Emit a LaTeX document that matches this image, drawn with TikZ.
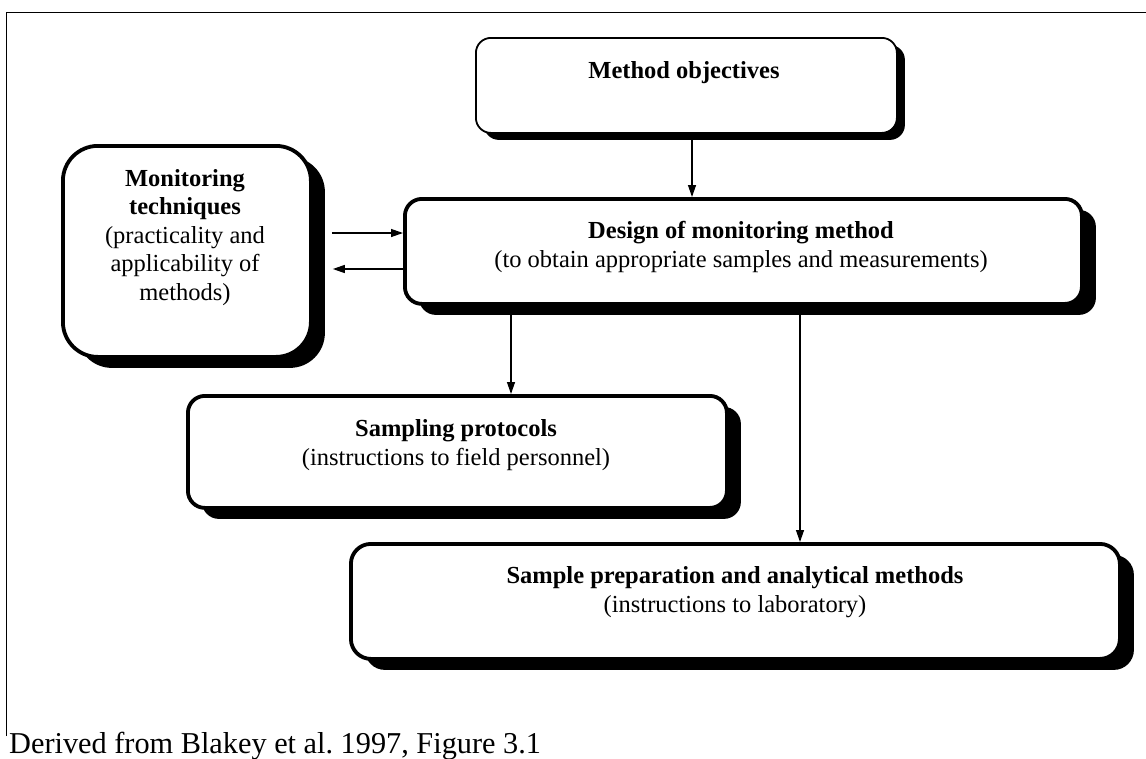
\documentclass[tikz,border=0pt]{standalone}
\usepackage{fontspec}
\setmainfont{Liberation Serif}
\usetikzlibrary{arrows.meta,shadows}
\begin{document}
\begin{tikzpicture}[x=1pt,y=-1pt,
  boxbase/.style={draw, fill=white, anchor=north west, inner sep=0pt},
  thinbox/.style={boxbase, line width=1.8pt, rounded corners=15pt,
    drop shadow={shadow xshift=8pt, shadow yshift=-7pt, fill=black, opacity=1}},
  thickbox/.style={boxbase, line width=3.8pt, rounded corners=17pt,
    drop shadow={shadow xshift=14pt, shadow yshift=-11pt, fill=black, opacity=1}},
  tb/.style={anchor=base, inner sep=0pt, font=\fontsize{24.5}{29}\selectfont\bfseries},
  tr/.style={anchor=base, inner sep=0pt, font=\fontsize{24.5}{29}\selectfont},
  arr/.style={line width=1.3pt, -{Triangle[length=12pt,width=8pt]}}
]
\useasboundingbox (0,0) rectangle (1146,758);
% frame
\draw[line width=1.6pt] (6.5,736) -- (6.5,12.5) -- (1146,12.5);

% boxes
\node[thinbox, minimum width=421pt, minimum height=95pt] (meth) at (475,37) {};
\node[thickbox, rounded corners=35pt, minimum width=248pt, minimum height=211pt] (mon) at (61,144) {};
\node[thickbox, minimum width=677pt, minimum height=105pt] (des) at (403,197) {};
\node[thickbox, minimum width=539pt, minimum height=112pt] (sam) at (186,394) {};
\node[thickbox, rounded corners=20pt, minimum width=769pt, minimum height=115pt] (prep) at (349,542) {};

% texts
\node[tb] (methT) at (684,78) {Method objectives};

\node[tb] (monT1) at (185,186) {Monitoring};
\node[tb] (monT2) at (185,214.5) {techniques};
\node[tr] (monT3) at (185,243) {(practicality and};
\node[tr] (monT4) at (185,271.5) {applicability of};
\node[tr] (monT5) at (185,300) {methods)};

\node[tb] (desT1) at (741,238) {Design of monitoring method};
\node[tr] (desT2) at (741,267) {(to obtain appropriate samples and measurements)};

\node[tb] (samT1) at (456,436) {Sampling protocols};
\node[tr] (samT2) at (456,465) {(instructions to field personnel)};

\node[tb] (prepT1) at (735,583) {Sample preparation and analytical methods};
\node[tr] (prepT2) at (735,612) {(instructions to laboratory)};

% helper coordinates for connector positions
\coordinate (xa) at (692,0);
\coordinate (xb) at (511,0);
\coordinate (xc) at (800,0);
\coordinate (ya) at (0,233);
\coordinate (yb) at (0,269);

% connectors
\draw[arr] (meth.south -| xa) -- (des.north -| xa);
\draw[arr, shorten <=19pt] (mon.east |- ya) -- (des.west |- ya);
\draw[arr, shorten >=20pt] (des.west |- yb) -- (mon.east |- yb);
\draw[arr] (des.south -| xb) -- (sam.north -| xb);
\draw[arr] (des.south -| xc) -- (prep.north -| xc);

% caption
\node[anchor=base west, inner sep=0pt, font=\fontsize{30.3}{36}\selectfont] (cap) at (9,753) {Derived from Blakey et al.\ 1997, Figure 3.1};
\end{tikzpicture}
\end{document}
